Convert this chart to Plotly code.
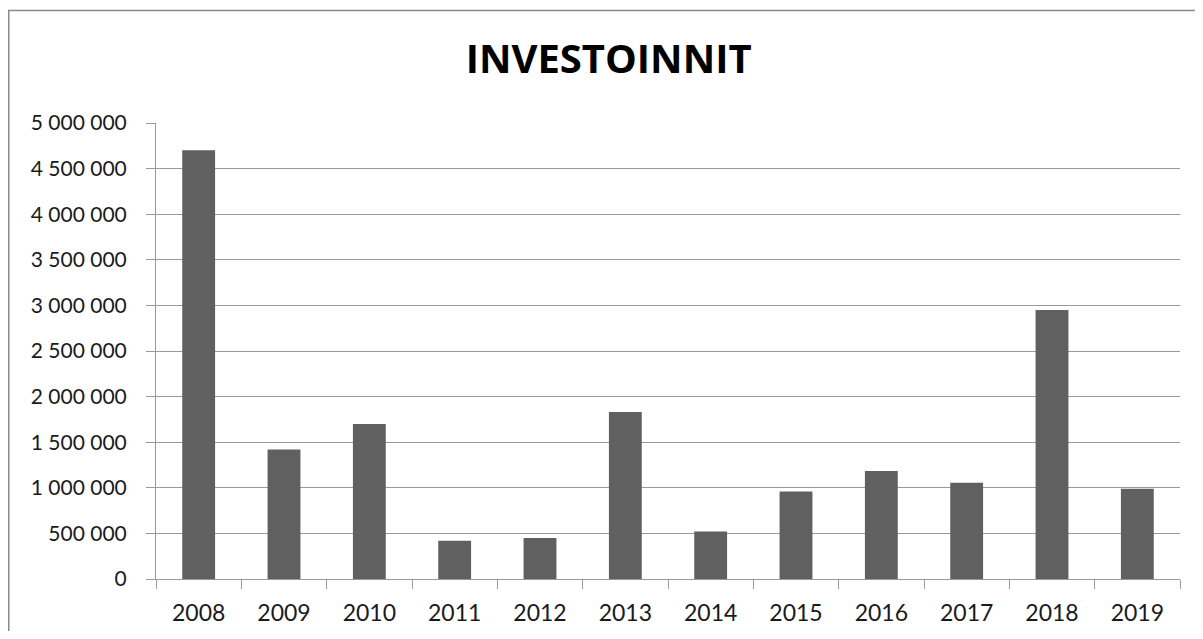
import plotly.graph_objects as go

years = ["2008", "2009", "2010", "2011", "2012", "2013", "2014", "2015", "2016", "2017", "2018", "2019"]
investments = [4700000, 1420000, 1700000, 420000, 450000, 1830000, 520000, 960000, 1185000, 1055000, 2950000, 990000]
y_ticks = [0, 500000, 1000000, 1500000, 2000000, 2500000, 3000000, 3500000, 4000000, 4500000, 5000000]

# page has an 8px body margin, so the figure is offset by 8px
W, H = 1187, 623
L, R, T, B = 148, 15, 115, 52

fig = go.Figure(go.Bar(x=years, y=investments, marker=dict(color="#606060", line=dict(width=0))))

pw = W - L - R
ph = H - T - B
def px_to_paper_x(px):
    return (px - L) / pw
def px_to_paper_y(py):
    return (H - B - py) / ph

grid = "#9a9a9a"
fig.update_layout(
    width=W, height=H,
    margin=dict(l=L, r=R, t=T, b=B, pad=0, autoexpand=False),
    paper_bgcolor="white", plot_bgcolor="white",
    separators=", ",
    bargap=0.615,
    showlegend=False,
    font=dict(family="Lato, Open Sans, sans-serif", size=21, color="#1a1a1a"),
    title=dict(text="<b>INVESTOINNIT</b>", x=0.506, xref="container", xanchor="center",
               y=1 - 51 / H, yref="container", yanchor="middle",
               font=dict(family="Open Sans, sans-serif", size=40, color="black")),
    xaxis=dict(showline=True, linecolor=grid, linewidth=1, ticks="outside", tickson="boundaries",
               ticklen=9, tickcolor=grid, showgrid=False, tickfont=dict(size=23),
               ticklabelstandoff=13, automargin=False),
    yaxis=dict(range=[0, 5000000], tickvals=y_ticks, tickformat=",d", showline=True, linecolor=grid,
               linewidth=1, ticks="outside", ticklen=9, tickcolor=grid, showgrid=True,
               gridcolor=grid, gridwidth=1, zeroline=False, tickfont=dict(size=21),
               ticklabelstandoff=15, automargin=False),
    shapes=[dict(type="rect", xref="paper", yref="paper",
                 x0=px_to_paper_x(0.75), x1=px_to_paper_x(1300),
                 y0=px_to_paper_y(700), y1=px_to_paper_y(2.5),
                 line=dict(color="#8a8a8a", width=1.5), fillcolor="rgba(0,0,0,0)", layer="below")],
)

fig.write_html("out.html")
